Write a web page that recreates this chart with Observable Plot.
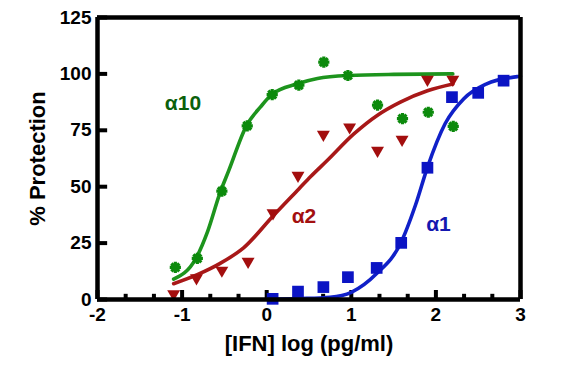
<!DOCTYPE html>
<html><head><meta charset="utf-8">
<script src="https://cdn.jsdelivr.net/npm/d3@7"></script>
<script src="https://cdn.jsdelivr.net/npm/@observablehq/plot@0.6"></script>
<style>body{margin:0;background:#fff;}</style>
</head><body><div id="chart"></div>
<script>
const xMajorTicks = [-2, -1, 0, 1, 2, 3];
const xMinorTicks = [-1.667, -1.333, -0.667, -0.333, 0.333, 0.667, 1.333, 1.667, 2.333, 2.667];
const yTicks = [0, 25, 50, 75, 100, 125];

// α1 (blue squares)
const a1X = [0.07, 0.37, 0.67, 0.96, 1.30, 1.59, 1.90, 2.19, 2.50, 2.80];
const a1Y = [0.3, 3.5, 5.5, 9.9, 14, 25.1, 58.4, 89.7, 91.6, 97];
const a1FitX = [0.0, 0.4, 0.75, 1.0, 1.3, 1.58, 1.76, 1.9, 2.11, 2.33, 2.6, 2.96, 3.0];
const a1FitY = [0.1, 0.4, 1.0, 3.2, 11.5, 24.7, 42, 58.6, 78, 89, 95.6, 98.8, 99];

// α2 (red triangles)
const a2X = [-1.10, -0.83, -0.53, -0.22, 0.075, 0.37, 0.67, 0.98, 1.31, 1.60, 1.90, 2.20];
const a2Y = [2.5, 9.5, 12.9, 16.8, 38.3, 55, 73.1, 76.4, 66, 70.9, 97.5, 97.5];
const a2FitX = [-1.1, -0.82, -0.55, -0.27, 0.075, 0.38, 0.52, 0.715, 1.03, 1.306, 1.58, 1.9, 2.2];
const a2FitY = [7, 11, 16, 23, 37, 49, 54.5, 61.6, 73.4, 81.6, 87.5, 92.5, 95.5];

// α10 (green asterisks)
const a10X = [-1.08, -0.82, -0.53, -0.23, 0.065, 0.38, 0.675, 0.96, 1.31, 1.605, 1.91, 2.205];
const a10Y = [14.2, 18.2, 48, 77, 90.8, 95, 105.2, 99.3, 86.2, 80.2, 83, 76.7];
const a10FitX = [-1.1, -0.84, -0.7, -0.55, -0.45, -0.24, -0.07, 0.065, 0.36, 0.6, 0.97, 1.5, 2.2];
const a10FitY = [9, 18, 30, 47.5, 57, 77, 85.5, 91, 95.6, 98, 99.3, 99.8, 100];

const labelText = ["α10", "α2", "α1"];
const labelX = [-0.99, 0.44, 2.03];
const labelY = [86.9, 36.8, 33.2];

const BLUE = "#0b14c4", RED = "#a30e0e", GREEN = "#0c8a0c";
const labelColors = ["#0b600b", "#a31010", "#1418b0"];

const pts = (xs, ys) => xs.map((x, i) => ({x, y: ys[i]}));

const asterisk8 = {draw(context, size) {
  const r = Math.sqrt(size / Math.PI);
  const d = r * Math.SQRT1_2;
  context.moveTo(0, -r); context.lineTo(0, r);
  context.moveTo(-r, 0); context.lineTo(r, 0);
  context.moveTo(-d, -d); context.lineTo(d, d);
  context.moveTo(-d, d); context.lineTo(d, -d);
}};

const bold = {fontWeight: "bold"};
const [X0, X1] = [-2, 3], [Y0, Y1] = [0, 125];
// inward tick lengths in data units (≈9px major, ≈5px minor)
const majorLenY = 4.0, minorLenY = 2.3, majorLenX = 0.12;

const chart = Plot.plot({
  width: 569, height: 385,
  marginLeft: 97, marginRight: 49, marginTop: 17, marginBottom: 86,
  style: {fontFamily: "'Liberation Sans', Arial, sans-serif", background: "#fff", color: "#000"},
  x: {domain: [X0, X1]},
  y: {domain: [Y0, Y1]},
  marks: [
    Plot.axisY({ticks: yTicks, tickSize: 0, tickPadding: 6, label: null, fontSize: 19, ...bold}),
    Plot.axisX({ticks: xMajorTicks, tickSize: 0, tickPadding: 8, label: null, fontSize: 19, tickFormat: d => String(d), ...bold}),
    Plot.ruleY(yTicks, {y: d => d, x1: X0, x2: X0 + majorLenX, stroke: "#000", strokeWidth: 4}),
    Plot.ruleX(xMajorTicks, {x: d => d, y1: Y0, y2: Y0 + majorLenY, stroke: "#000", strokeWidth: 4}),
    Plot.ruleX(xMinorTicks, {x: d => d, y1: Y0, y2: Y0 + minorLenY, stroke: "#000", strokeWidth: 4}),
    Plot.line(pts(a10FitX, a10FitY), {x: "x", y: "y", stroke: "#1d941d", strokeWidth: 3.6, curve: "monotone-x"}),
    Plot.line(pts(a2FitX, a2FitY), {x: "x", y: "y", stroke: "#a81818", strokeWidth: 3.6, curve: "monotone-x"}),
    Plot.line(pts(a1FitX, a1FitY), {x: "x", y: "y", stroke: "#1020c8", strokeWidth: 3.6, curve: "monotone-x"}),
    Plot.dot(pts(a1X, a1Y), {x: "x", y: "y", symbol: "square", r: 6.6, fill: BLUE, stroke: "none"}),
    Plot.dot(pts(a2X, a2Y), {x: "x", y: "y", symbol: "triangle", r: 4.8, rotate: 180, fill: RED, stroke: "none"}),
    Plot.dot(pts(a10X, a10Y), {x: "x", y: "y", symbol: asterisk8, r: 5.6, fill: "none", stroke: GREEN, strokeWidth: 3.2}),
    ...labelText.map((t, i) => Plot.text([t], {x: () => labelX[i], y: () => labelY[i], text: d => d, fill: labelColors[i], fontSize: 21, ...bold})),
    Plot.ruleY([Y0, Y1], {y: d => d, x1: X0, x2: X1, stroke: "#000", strokeWidth: 4.5}),
    Plot.ruleX([X0, X1], {x: d => d, y1: Y0, y2: Y1, stroke: "#000", strokeWidth: 4.5}),
    Plot.text(["% Protection"], {text: d => d, frameAnchor: "left", textAnchor: "middle", dx: -60, rotate: -90, fontSize: 22, ...bold}),
    Plot.text(["[IFN] log (pg/ml)"], {text: d => d, frameAnchor: "bottom", textAnchor: "middle", dy: 51, fontSize: 22, ...bold})
  ]
});
document.getElementById("chart").appendChild(chart);
</script>
</body></html>
